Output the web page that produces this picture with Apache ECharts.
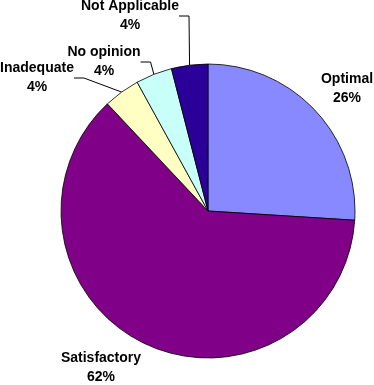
<!DOCTYPE html>
<html>
<head>
<meta charset="utf-8">
<script src="https://cdn.jsdelivr.net/npm/echarts@6/dist/echarts.min.js"></script>
<style>
  html, body { margin: 0; padding: 0; background: #fff; }
  #chart { width: 374px; height: 385px; }
</style>
</head>
<body>
<div id="chart"></div>
<script>
// Data
const categories = ['Optimal', 'Satisfactory', 'Inadequate', 'No opinion', 'Not Applicable']
const shares = [26, 62, 4, 4, 4]
const colors = ['#8888ff', '#800088', '#ffffc4', '#c8fff8', '#2a0099']

// where each label sits (centre of the text block)
const labelSpots = [[347, 89], [101, 368], [37, 78], [104, 62], [130, 16]]

const chartDom = document.getElementById('chart')
const myChart = echarts.init(chartDom)

const option = {
  animation: false,
  series: [
    {
      type: 'pie',
      center: [208, 211],
      radius: 147,
      startAngle: 90,
      clockwise: true,
      percentPrecision: 0,
      itemStyle: {
        borderColor: '#000',
        borderWidth: 0.8
      },
      label: {
        show: true,
        position: 'outside',
        formatter: '{b}\n{d}%',
        fontFamily: 'Liberation Sans, Arial, sans-serif',
        fontWeight: 'bold',
        fontSize: 14,
        lineHeight: 19,
        color: '#000',
        align: 'center',
        overflow: 'none'
      },
      labelLine: {
        show: true,
        length: 10,
        length2: 10,
        lineStyle: { color: '#000', width: 1 }
      },
      labelLayout: function (params) {
        const p = labelSpots[params.dataIndex]
        return {
          x: p[0],
          y: p[1],
          align: 'center',
          verticalAlign: 'middle'
        }
      },
      data: categories.map((name, i) => ({
        name: name,
        value: shares[i],
        itemStyle: { color: colors[i] },
        labelLine: { show: i >= 2 }
      }))
    }
  ]
}

option && myChart.setOption(option)
</script>
</body>
</html>
